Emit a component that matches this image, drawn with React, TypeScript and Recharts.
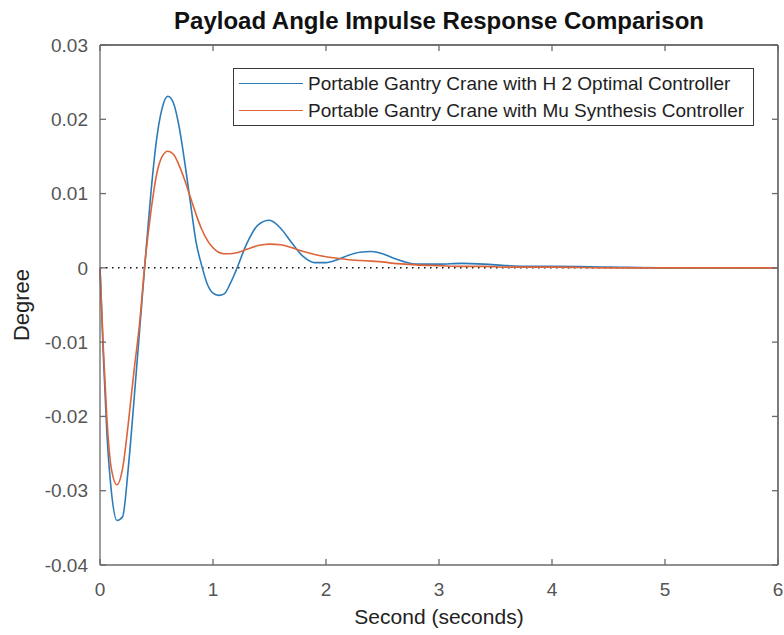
import React from 'react';
import { LineChart, Line, XAxis, YAxis, ReferenceLine, Legend } from 'recharts';

// time in seconds
const timeS = [
  0, 0.03, 0.06, 0.1, 0.15, 0.2, 0.25, 0.3, 0.35, 0.4, 0.45, 0.5, 0.55, 0.6, 0.65, 0.7, 0.75, 0.8, 0.85, 0.9,
  0.95, 1.0, 1.05, 1.1, 1.15, 1.2, 1.3, 1.4, 1.5, 1.6, 1.7, 1.8, 1.9, 2.0, 2.1, 2.2, 2.3, 2.4, 2.5, 2.6,
  2.7, 2.8, 3.0, 3.2, 3.4, 3.6, 3.8, 4.0, 4.5, 5.0, 5.5, 6.0,
];

// H2 optimal controller (blue)
const h2Deg = [
  0, -0.012, -0.022, -0.03, -0.034, -0.0335, -0.027, -0.018, -0.0085, 0.001, 0.01, 0.0172, 0.0215, 0.0231, 0.0222, 0.019, 0.0142, 0.0088, 0.0035, 0.0003,
  -0.0022, -0.0034, -0.0037, -0.0035, -0.0022, -0.0005, 0.0033, 0.0058, 0.0064, 0.0053, 0.0033, 0.0015, 0.0007, 0.0007, 0.0011, 0.0017, 0.0021, 0.0022, 0.0019, 0.0013,
  0.0008, 0.0005, 0.0005, 0.0006, 0.0005, 0.0003, 0.0002, 0.0002, 0.0001, 0, 0, 0,
];

// Mu synthesis controller (orange)
const muDeg = [
  0, -0.011, -0.02, -0.027, -0.0292, -0.027, -0.021, -0.014, -0.0075, 0.001, 0.0075, 0.0125, 0.015, 0.0157, 0.0153, 0.0138, 0.0118, 0.0095, 0.0072, 0.0052,
  0.0037, 0.0027, 0.0021, 0.0019, 0.0019, 0.002, 0.0025, 0.003, 0.0032, 0.0031, 0.0027, 0.0022, 0.0018, 0.0015, 0.0013, 0.0011, 0.001, 0.0009, 0.0008, 0.0006,
  0.0005, 0.0004, 0.0003, 0.0002, 0.0002, 0.0001, 0.0001, 0.0001, 0, 0, 0, 0,
];

const xTicks = [0, 1, 2, 3, 4, 5, 6];
const yTicks = [-0.04, -0.03, -0.02, -0.01, 0, 0.01, 0.02, 0.03];

const seriesNames = [
  'Portable Gantry Crane with H 2 Optimal Controller',
  'Portable Gantry Crane with Mu Synthesis Controller',
];
const seriesColors = ['#2c7bb9', '#dd6439'];

const data = timeS.map((t, i) => ({ t, h2: h2Deg[i], mu: muDeg[i] }));

const FONT = '"Liberation Sans", Arial, Helvetica, sans-serif';
const AXIS = '#6a6a6a';

const NoLabel = () => <g />;

function LegendBox() {
  return (
    <div
      style={{
        border: '1px solid #3a3a3a',
        background: '#fff',
        padding: '1px 9px 1px 5px',
        fontFamily: FONT,
        fontSize: 19,
        color: '#1e1e1e',
      }}
    >
      {seriesNames.map((name, i) => (
        <div key={name} style={{ display: 'flex', alignItems: 'center', height: 27 }}>
          <div style={{ width: 64, height: 0, borderTop: `1.5px solid ${seriesColors[i]}`, marginRight: 5 }} />
          <span style={{ whiteSpace: 'nowrap' }}>{name}</span>
        </div>
      ))}
    </div>
  );
}

export default function App() {
  return (
    <div style={{ position: 'absolute', left: 0, top: 0, width: 784, height: 635, background: '#fff' }}>
      <div
        style={{
          position: 'absolute',
          left: 100,
          width: 678,
          top: 7,
          textAlign: 'center',
          fontFamily: FONT,
          fontWeight: 'bold',
          fontSize: 24,
          color: '#111',
          lineHeight: '28px',
        }}
      >
        Payload Angle Impulse Response Comparison
      </div>
      <LineChart width={784} height={635} data={data} margin={{ top: 44, right: 5, left: 0, bottom: 0 }}>
        <XAxis
          dataKey="t"
          type="number"
          domain={[0, 6]}
          ticks={xTicks}
          height={70}
          tickSize={-6}
          tickMargin={24}
          stroke={AXIS}
          strokeWidth={1.3}
          tick={{ fill: '#555', fontSize: 19, fontFamily: FONT }}
          label={{ value: 'Second (seconds)', position: 'center', dy: 17, fill: '#222', fontSize: 21, fontFamily: FONT }}
        />
        {/* box: top and right axes with inward ticks, no labels */}
        <XAxis
          xAxisId="top"
          orientation="top"
          dataKey="t"
          type="number"
          domain={[0, 6]}
          ticks={xTicks}
          height={1}
          tick={NoLabel}
          tickSize={-6}
          stroke={AXIS}
          strokeWidth={1.3}
        />
        <YAxis
          type="number"
          domain={[-0.04, 0.03]}
          ticks={yTicks}
          width={100}
          tickSize={-6}
          tickMargin={18}
          stroke={AXIS}
          strokeWidth={1.3}
          tick={{ fill: '#555', fontSize: 19, fontFamily: FONT }}
          label={{ value: 'Degree', angle: -90, position: 'center', dx: -29, fill: '#222', fontSize: 22, fontFamily: FONT }}
        />
        <YAxis
          yAxisId="right"
          orientation="right"
          type="number"
          domain={[-0.04, 0.03]}
          ticks={yTicks}
          width={1}
          tick={NoLabel}
          tickSize={-6}
          stroke={AXIS}
          strokeWidth={1.3}
        />
        <ReferenceLine y={0.03} stroke={AXIS} strokeWidth={1.3} />
        <ReferenceLine x={6} stroke={AXIS} strokeWidth={1.3} />
        <ReferenceLine y={0} stroke="#111" strokeWidth={1.5} strokeDasharray="1.5 4.5" />
        <Line dataKey="h2" name={seriesNames[0]} type="monotone" stroke={seriesColors[0]} strokeWidth={1.6} dot={false} isAnimationActive={false} />
        <Line
          dataKey="mu"
          name={seriesNames[1]}
          xAxisId="top"
          yAxisId="right"
          type="monotone"
          stroke={seriesColors[1]}
          strokeWidth={1.6}
          dot={false}
          isAnimationActive={false}
        />
        <Legend
          layout="vertical"
          align="center"
          verticalAlign="middle"
          content={() => <LegendBox />}
          wrapperStyle={{ position: 'absolute', left: 233, top: 68, width: 'auto' }}
        />
      </LineChart>
    </div>
  );
}
